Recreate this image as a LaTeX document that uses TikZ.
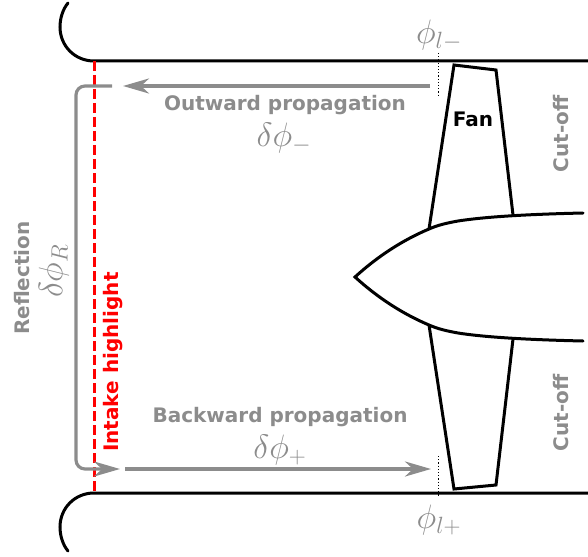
\documentclass[tikz,border=0pt]{standalone}
\usepackage{fontspec}
\usepackage{amsmath}
\setmainfont{DejaVu Sans}
\usetikzlibrary{arrows.meta}
\definecolor{gr}{RGB}{140,140,140}
\newcommand{\symtext}[1]{\scalebox{1.36}{#1}}
\tikzset{
 wall/.style={draw=black,line width=3pt},
 blade/.style={draw=black,line width=3pt,line join=miter},
 flow/.style={draw=gr,line width=3.2pt},
 tip/.style={-{Stealth[length=26pt,width=15pt,inset=8pt]}},
 lab/.style={text=gr,font=\fontsize{20}{22}\selectfont\bfseries,inner sep=0pt},
 sym/.style={text=gr,font=\fontsize{24}{26}\selectfont,inner sep=0pt},
 fine/.style={draw=black,line width=1.2pt,dash pattern=on 1.2pt off 2pt}
}
\begin{document}
\begin{tikzpicture}[x=1pt,y=-1pt]
\useasboundingbox (0,0) rectangle (588,556);
% named points
\coordinate (tl) at (94,61); \coordinate (tr) at (588,61);
\coordinate (bl) at (94,493); \coordinate (br) at (588,493);
\coordinate (tlip) at (68,3); \coordinate (blip) at (68,551);
\coordinate (o1) at (430,86); \coordinate (o2) at (123,86);
\coordinate (b1) at (125,469); \coordinate (b2) at (431,469);
\coordinate (r1) at (112,86); \coordinate (r2) at (76,86); \coordinate (r3) at (76,469); \coordinate (r4) at (120,469);
% walls
\draw[wall,line cap=round] (tlip) .. controls (63,9) and (60,18) .. (60,27) .. controls (60,46) and (75,61) .. (tl) -- (tr);
\draw[wall,line cap=round] (blip) .. controls (63,545) and (60,536) .. (60,527) .. controls (60,508) and (75,493) .. (bl) -- (br);
% highlight
\draw[draw=red,line width=3pt,dash pattern=on 10pt off 4pt] (tl) -- (bl);
% flows
\draw[flow,tip] (o1) -- (o2);
\draw[flow,tip] (b1) -- (b2);
\draw[flow,tip,rounded corners=9pt] (r1) -- (r2) -- (r3) -- (r4);
% dotted
\draw[fine] (438.5,53) -- (438.5,95);
\draw[fine] (438.5,456) -- (438.5,497);
% fan
\draw[blade] (429,229) -- (454,65) -- (496,70) -- (513,215);
\draw[blade] (429,325) -- (454,489) -- (496,485) -- (513,339);
\draw[wall,line cap=round] (583,213) .. controls (540,214) and (490,216) .. (458,221) .. controls (447,223) and (438,225) .. (429,229) .. controls (403,240) and (378,256) .. (355,277) .. controls (378,298) and (403,314) .. (429,325) .. controls (438,329) and (447,331) .. (458,333) .. controls (490,338) and (540,340) .. (583,341);
% text
\node[lab] (ow) at (285,105) {Outward propagation};
\node[lab] (bw) at (280,417) {Backward propagation};
\node[lab,text=black] (fan) at (473,119) {Fan};
\node[lab,rotate=90] (c1) at (561,134) {Cut-off};
\node[lab,rotate=90] (c2) at (561,413) {Cut-off};
\node[lab,rotate=90] (refl) at (22,278) {Reflection};
\node[lab,rotate=90,text=red] (ih) at (113,362) {Intake highlight};
\node[sym] (dm) at (284,138) {\symtext{$\delta\phi_{-}$}};
\node[sym] (dp) at (280,450) {\symtext{$\delta\phi_{+}$}};
\node[sym,rotate=90] (dr) at (54,271) {\symtext{$\delta\phi_{R}$}};
\node[sym] (lm) at (439,35) {\symtext{$\phi_{l-}$}};
\node[sym] (lp) at (439,520) {\symtext{$\phi_{l+}$}};
\end{tikzpicture}
\end{document}
